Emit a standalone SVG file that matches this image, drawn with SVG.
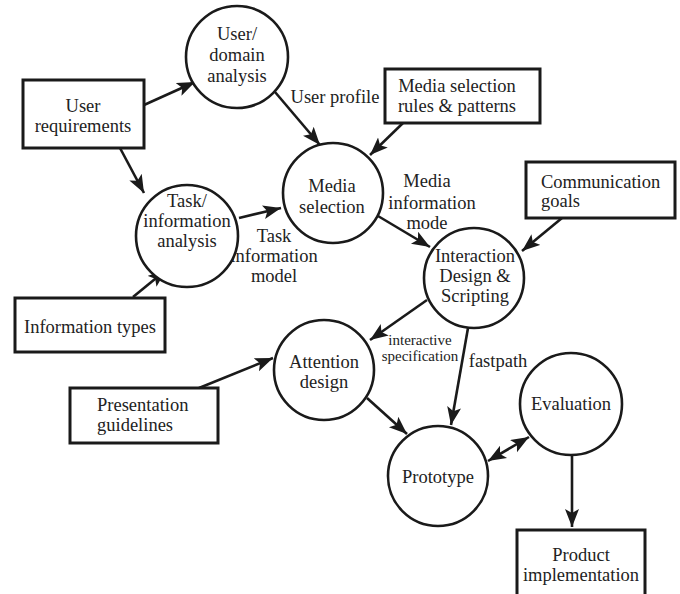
<svg xmlns="http://www.w3.org/2000/svg" width="680" height="594" viewBox="0 0 680 594">
<style>
  .box { fill: #fff; stroke: #1a1a1a; stroke-width: 3; }
  .proc { fill: #fff; stroke: #1a1a1a; stroke-width: 2.6; }
  .conn { fill: none; stroke: #1a1a1a; stroke-width: 2.6; marker-end: url(#ah); }
  .both { marker-start: url(#ahs); }
  text { font-family: "Liberation Serif", "Times New Roman", serif; font-size: 18.5px; fill: #222; text-anchor: middle; }
  .lft { text-anchor: start; }
  .sm { font-size: 15px; }
</style>
<defs>
  <marker id="ah" markerUnits="userSpaceOnUse" markerWidth="20" markerHeight="16" refX="18" refY="7" orient="auto">
    <path d="M0,0 L18,7 L0,14 L4,7 z" fill="#1a1a1a"/>
  </marker>
  <marker id="ahs" markerUnits="userSpaceOnUse" markerWidth="20" markerHeight="16" refX="0" refY="7" orient="auto">
    <path d="M18,0 L0,7 L18,14 L14,7 z" fill="#1a1a1a"/>
  </marker>
</defs>
<rect width="680" height="594" fill="#fff"/>

<g id="connectors">
  <path class="conn" d="M144,105 L195,82"/>
  <path class="conn" d="M275,92 L320,145"/>
  <path class="conn" d="M120,148 L144,193"/>
  <path class="conn" d="M239,218 L281,208"/>
  <path class="conn" d="M133,297 L166,270"/>
  <path class="conn" d="M403,123 L370,155"/>
  <path class="conn" d="M378,216 L430,247"/>
  <path class="conn" d="M562,218 L522,251"/>
  <path class="conn" d="M427,300 L370,340"/>
  <path class="conn" d="M468,328 L451,425"/>
  <path class="conn" d="M199,388 L273,358"/>
  <path class="conn" d="M367,398 L407,434"/>
  <path class="conn both" d="M488,461 L529,437"/>
  <path class="conn" d="M572,454 L572,527"/>
  <text x="335" y="103">User profile</text>
  <text x="274" y="242">Task</text>
  <text x="274" y="262">information</text>
  <text x="274" y="282">model</text>
  <text x="427" y="187">Media</text>
  <text x="432" y="209">information</text>
  <text x="427" y="229">mode</text>
  <text class="sm" x="420" y="345">interactive</text>
  <text class="sm" x="420" y="361">specification</text>
  <text x="498" y="367">fastpath</text>
</g>

<g id="user-requirements">
  <rect class="box" x="23" y="80" width="121" height="68"/>
  <text x="83" y="112">User</text>
  <text x="83" y="132">requirements</text>
</g>
<g id="user-domain-analysis">
  <circle class="proc" cx="237" cy="57" r="51"/>
  <text x="237" y="40">User/</text>
  <text x="237" y="61">domain</text>
  <text x="237" y="82">analysis</text>
</g>
<g id="task-information-analysis">
  <circle class="proc" cx="187" cy="236" r="51"/>
  <text x="187" y="207">Task/</text>
  <text x="187" y="227">information</text>
  <text x="187" y="247">analysis</text>
</g>
<g id="media-selection">
  <circle class="proc" cx="333" cy="193" r="50"/>
  <text x="332" y="192">Media</text>
  <text x="332" y="213">selection</text>
</g>
<g id="media-selection-rules">
  <rect class="box" x="385" y="69" width="155" height="54"/>
  <text x="457" y="92">Media selection</text>
  <text x="457" y="112">rules &amp; patterns</text>
</g>
<g id="communication-goals">
  <rect class="box" x="526" y="162" width="149" height="56"/>
  <text class="lft" x="541" y="188">Communication</text>
  <text class="lft" x="541" y="207">goals</text>
</g>
<g id="interaction-design">
  <circle class="proc" cx="474" cy="278" r="50"/>
  <text x="475" y="262">Interaction</text>
  <text x="475" y="282">Design &amp;</text>
  <text x="475" y="302">Scripting</text>
</g>
<g id="information-types">
  <rect class="box" x="15" y="298" width="150" height="54"/>
  <text x="90" y="333">Information types</text>
</g>
<g id="presentation-guidelines">
  <rect class="box" x="70" y="388" width="148" height="55"/>
  <text class="lft" x="97" y="411">Presentation</text>
  <text class="lft" x="97" y="431">guidelines</text>
</g>
<g id="attention-design">
  <circle class="proc" cx="324" cy="370" r="50"/>
  <text x="324" y="368">Attention</text>
  <text x="324" y="388">design</text>
</g>
<g id="prototype">
  <circle class="proc" cx="438" cy="476" r="50"/>
  <text x="438" y="483">Prototype</text>
</g>
<g id="evaluation">
  <circle class="proc" cx="571" cy="404" r="51"/>
  <text x="571" y="410">Evaluation</text>
</g>
<g id="product-implementation">
  <rect class="box" x="517" y="530" width="128" height="80"/>
  <text x="581" y="561">Product</text>
  <text x="581" y="581">implementation</text>
</g>
</svg>
